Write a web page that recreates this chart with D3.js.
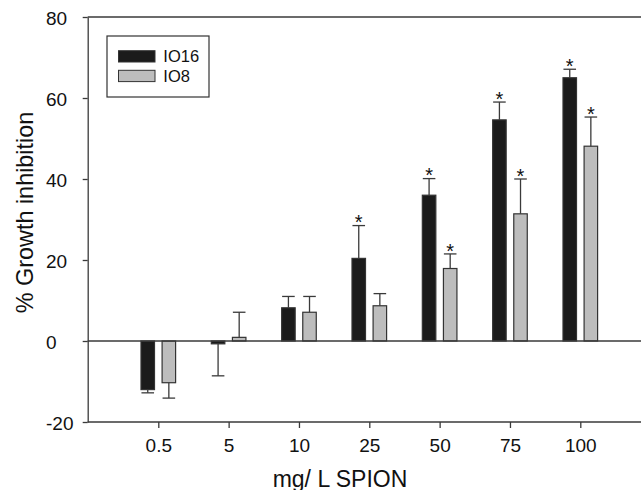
<!DOCTYPE html>
<html>
<head>
<meta charset="utf-8">
<script src="https://cdnjs.cloudflare.com/ajax/libs/d3/7.8.5/d3.min.js"></script>
<style>
  body { margin: 0; background: #fff; }
  svg { display: block; }
</style>
</head>
<body>
<div id="chart"></div>
<script>
// data
var doses = ["0.5", "5", "10", "25", "50", "75", "100"];
var series = ["IO16", "IO8"];
var io16 = [-12, -0.7, 8.2, 20.4, 36.0, 54.6, 65.0];
var io16Err = [0.8, 7.9, 2.8, 8.1, 4.1, 4.4, 2.1];
var io8 = [-10.3, 0.9, 7.1, 8.7, 17.9, 31.4, 48.1];
var io8Err = [3.8, 6.2, 3.9, 3.0, 3.6, 8.6, 7.2];
var io16Sig = [false, false, false, true, true, true, true];
var io8Sig = [false, false, false, false, true, true, true];
var yTicks = [-20, 0, 20, 40, 60, 80];

var w = 641;
var h = 490;
var axisColor = "#3a3a3a";
var tickFont = "'Liberation Sans Narrow', 'Arial Narrow', sans-serif";
var titleFont = "'Liberation Sans', Arial, sans-serif";

var svg = d3.select("#chart")
			.append("svg")
			.attr("width", w)
			.attr("height", h);

var left = 87.7;

var y = d3.scaleLinear()
		  .domain([-20, 80])
		  .range([422, 17]);

var x = d3.scalePoint()
		  .domain(doses)
		  .range([158.3, 580.3]);

// two bars inside each dose group
var xSub = d3.scaleBand()
			 .domain(series)
			 .range([-17.3, 17.3])
			 .paddingInner(0.36);

var rows = doses.map(function(d, i) {
	return [
		{ dose: d, key: "IO16", v: io16[i], err: io16Err[i], sig: io16Sig[i] },
		{ dose: d, key: "IO8", v: io8[i], err: io8Err[i], sig: io8Sig[i] }
	];
});
var bars = [].concat.apply([], rows);

var fill = { "IO16": "#1b1b1b", "IO8": "#bdbdbd" };

// y axis (plain hyphen for negatives, like the original)
var yAxis = svg.append("g")
			   .attr("transform", "translate(" + left + ",0)")
			   .call(d3.axisLeft(y)
					   .tickValues(yTicks)
					   .tickFormat(function(d) { return String(d); })
					   .tickSize(5)
					   .tickSizeOuter(0));
yAxis.select(".domain").attr("stroke", axisColor).attr("stroke-width", 1.3);
yAxis.selectAll(".tick line").attr("stroke", axisColor).attr("stroke-width", 1.3);
yAxis.selectAll(".tick text")
	 .attr("x", 46 - left)
	 .attr("dy", "0.42em")
	 .attr("text-anchor", "start")
	 .attr("font-family", tickFont)
	 .attr("font-size", "19px")
	 .attr("fill", "#111");

// top line and bottom axis line to the right edge
svg.append("line")
   .attr("x1", left).attr("x2", w)
   .attr("y1", y(80)).attr("y2", y(80))
   .attr("stroke", axisColor).attr("stroke-width", 1.3);

var xAxis = svg.append("g")
			   .attr("transform", "translate(0," + y(-20) + ")")
			   .call(d3.axisBottom(x).tickSize(6).tickSizeOuter(0));
xAxis.select(".domain").remove();
xAxis.append("line")
	 .attr("x1", left).attr("x2", w)
	 .attr("stroke", axisColor).attr("stroke-width", 1.3);
xAxis.selectAll(".tick line").attr("stroke", axisColor).attr("stroke-width", 1.3);
xAxis.selectAll(".tick text")
	 .attr("y", 17)
	 .attr("dy", "0.71em")
	 .attr("font-family", tickFont)
	 .attr("font-size", "19px")
	 .attr("fill", "#111");

// bars
svg.selectAll("rect.bar")
   .data(bars)
   .enter()
   .append("rect")
   .attr("class", "bar")
   .attr("x", function(d) { return x(d.dose) + xSub(d.key); })
   .attr("y", function(d) { return y(Math.max(0, d.v)); })
   .attr("width", xSub.bandwidth())
   .attr("height", function(d) { return Math.abs(y(d.v) - y(0)); })
   .attr("fill", function(d) { return fill[d.key]; })
   .attr("stroke", "#333")
   .attr("stroke-width", 1.2);

// zero line
svg.append("line")
   .attr("x1", left).attr("x2", w)
   .attr("y1", y(0)).attr("y2", y(0))
   .attr("stroke", axisColor).attr("stroke-width", 1.3);

// error bars, one sided away from zero
function errEnd(d) {
	return d.v < 0 ? d.v - d.err : d.v + d.err;
}
function cx(d) {
	return x(d.dose) + xSub(d.key) + xSub.bandwidth() / 2;
}
svg.selectAll("line.err")
   .data(bars)
   .enter()
   .append("line")
   .attr("class", "err")
   .attr("x1", cx).attr("x2", cx)
   .attr("y1", function(d) { return y(d.v); })
   .attr("y2", function(d) { return y(errEnd(d)); })
   .attr("stroke", axisColor)
   .attr("stroke-width", 1.3);

svg.selectAll("line.cap")
   .data(bars)
   .enter()
   .append("line")
   .attr("class", "cap")
   .attr("x1", function(d) { return cx(d) - 6.3; })
   .attr("x2", function(d) { return cx(d) + 6.3; })
   .attr("y1", function(d) { return y(errEnd(d)); })
   .attr("y2", function(d) { return y(errEnd(d)); })
   .attr("stroke", axisColor)
   .attr("stroke-width", 1.3);

// significance stars
svg.selectAll("text.star")
   .data(bars.filter(function(d) { return d.sig; }))
   .enter()
   .append("text")
   .attr("class", "star")
   .text("*")
   .attr("x", cx)
   .attr("y", function(d) { return y(errEnd(d)) + 3.8; })
   .attr("text-anchor", "middle")
   .attr("font-family", titleFont)
   .attr("font-size", "20px")
   .attr("fill", "#111");

// axis titles
svg.append("text")
   .text("mg/ L SPION")
   .attr("x", 340)
   .attr("y", 486.5)
   .attr("text-anchor", "middle")
   .attr("font-family", titleFont)
   .attr("font-size", "23px")
   .attr("fill", "#111");

svg.append("text")
   .text("% Growth inhibition")
   .attr("transform", "translate(33.3,212.5) rotate(-90)")
   .attr("text-anchor", "middle")
   .attr("font-family", titleFont)
   .attr("font-size", "23.4px")
   .attr("fill", "#111");

// legend
var legend = svg.append("g");
legend.append("rect")
	  .attr("x", 107).attr("y", 36)
	  .attr("width", 102).attr("height", 61)
	  .attr("fill", "#fff")
	  .attr("stroke", "#333")
	  .attr("stroke-width", 1.2);

legend.selectAll("rect.key")
	  .data(series)
	  .enter()
	  .append("rect")
	  .attr("class", "key")
	  .attr("x", 118.5)
	  .attr("y", function(d, i) { return 50.7 + i * 19.6; })
	  .attr("width", 36.5)
	  .attr("height", 11.3)
	  .attr("fill", function(d) { return fill[d]; })
	  .attr("stroke", "#333")
	  .attr("stroke-width", 1);

legend.selectAll("text.key")
	  .data(series)
	  .enter()
	  .append("text")
	  .attr("class", "key")
	  .text(function(d) { return d; })
	  .attr("x", 163.3)
	  .attr("y", function(d, i) { return 62 + i * 19.6; })
	  .attr("font-family", titleFont)
	  .attr("font-size", "16.5px")
	  .attr("fill", "#111");
</script>
</body>
</html>
